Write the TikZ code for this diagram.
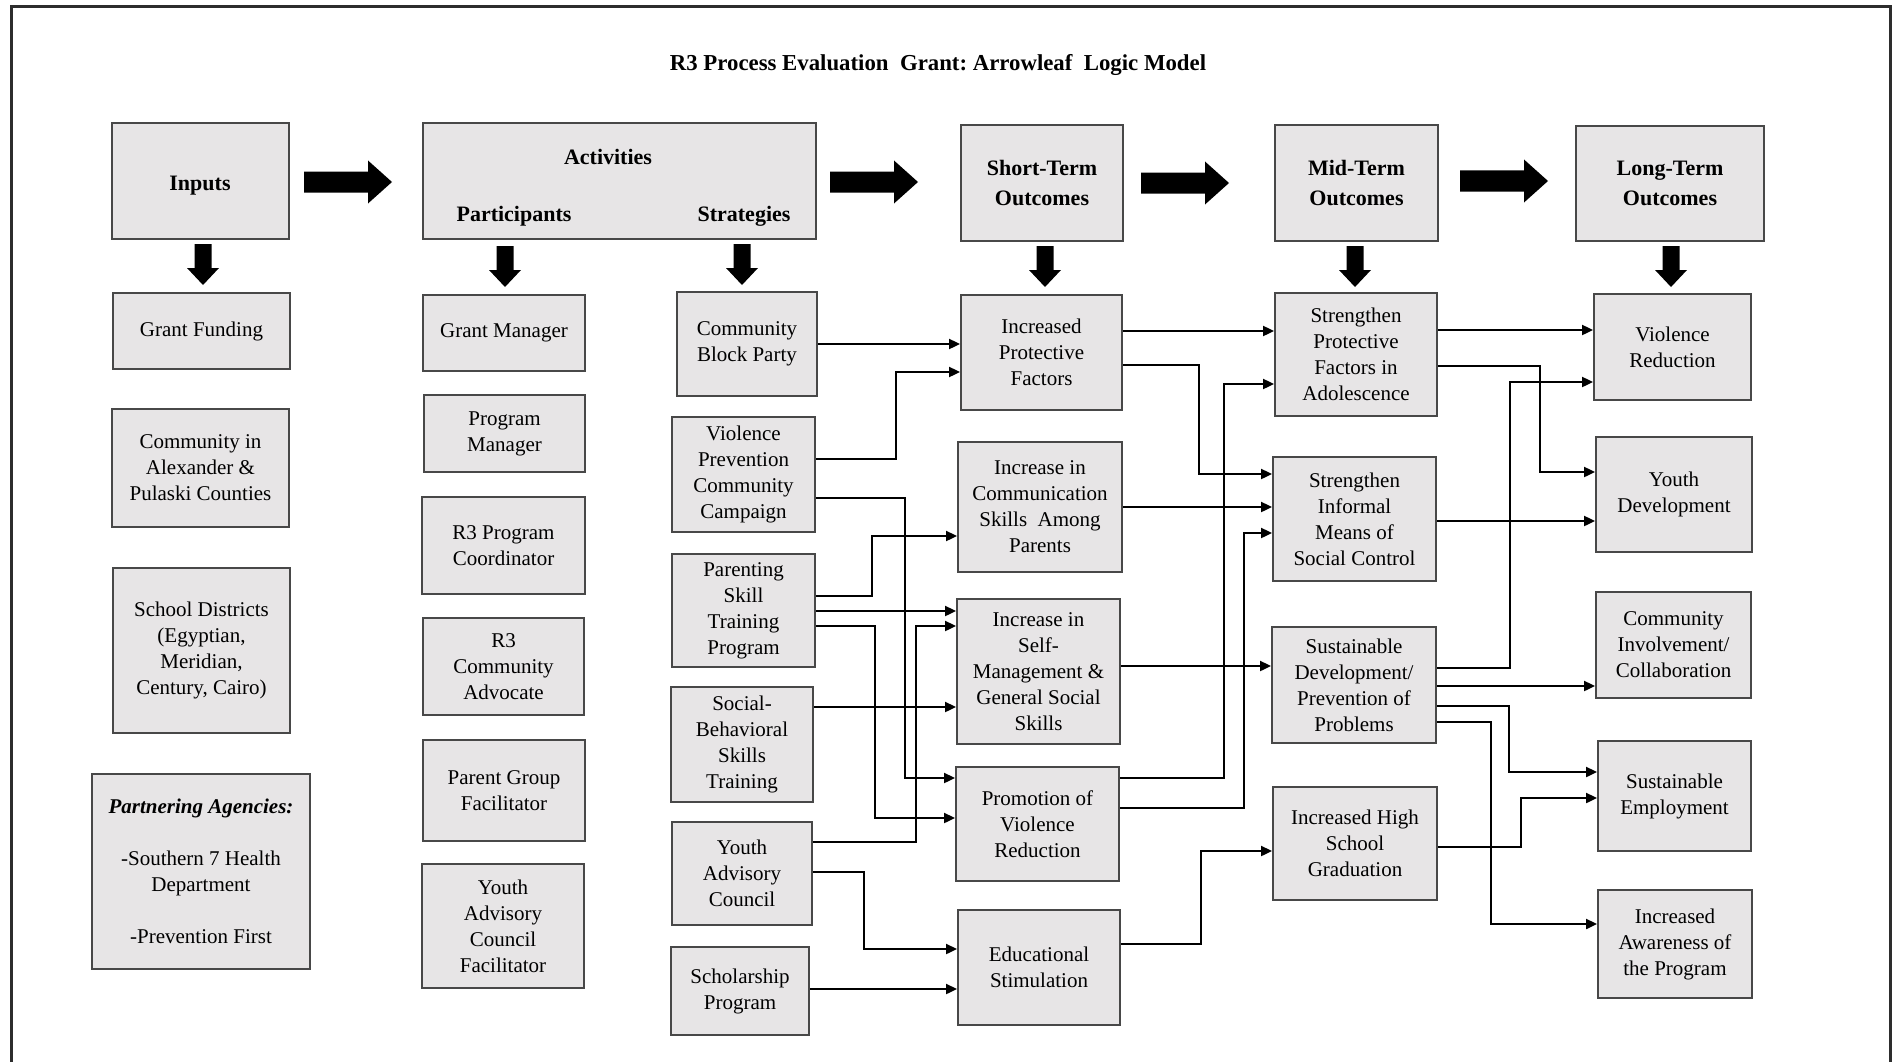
\documentclass[tikz,border=0pt]{standalone}
\usepackage{fontspec}
\setmainfont{Liberation Serif}
\usetikzlibrary{arrows.meta}

\definecolor{boxfill}{RGB}{231,229,230}
\definecolor{boxline}{RGB}{72,72,72}
\definecolor{framecol}{RGB}{45,45,45}

\newcommand\boxfont{\fontsize{21}{26}\selectfont}
\newcommand\headfont{\fontsize{22}{30}\selectfont\bfseries}

\tikzset{
  cell/.style={draw=boxline, fill=boxfill, line width=2pt, align=center,
    inner sep=0pt, font=\boxfont},
  headcell/.style={cell, font=\headfont},
  link/.style={line width=2.3pt, -{Triangle[length=11pt,width=10pt]}},
  pics/bigright/.style={code={
    \fill (0,-10.5) -- (64,-10.5) -- (64,-21.5) -- (88,0) -- (64,21.5)
          -- (64,10.5) -- (0,10.5) -- cycle;}},
  pics/bigdown/.style={code={
    \fill (-8.5,0) -- (8.5,0) -- (8.5,24) -- (16,24) -- (0,41) -- (-16,24)
          -- (-8.5,24) -- cycle;}},
}

% box from corner (x1,y1) to corner (x2,y2), y measured downwards
\newcommand\mkcell[7][cell]{%
  \node[#1, minimum width={(#4)-(#2)}, minimum height={(#5)-(#3)}]
    (#6) at ({((#2)+(#4))/2},{((#3)+(#5))/2}) {#7};}

\begin{document}
\begin{tikzpicture}[x=1pt, y=-1pt]
\useasboundingbox (0,0) rectangle (1893,1062);
\fill[white] (0,0) rectangle (1893,1062);

% outer frame
\draw[framecol, line width=3pt] (11,1062) -- (11,7) -- (1890,7) -- (1890,1062);

% title
\node (title) at (938,65)
  {\fontsize{22.8}{27}\selectfont\bfseries R3 Process Evaluation\ \ Grant:\ Arrowleaf\ \ Logic Model};

% column headers
\mkcell[headcell]{112}{123}{289}{239}{inputs}{}
\node[font=\headfont] (inputslabel) at (200,186) {Inputs};
\mkcell[headcell]{423}{123}{816}{239}{act}{}
\node[font=\headfont] (acttitle) at (608,157) {Activities};
\node[font=\headfont] (actpart) at (514,216) {Participants};
\node[font=\headfont] (actstrat) at (744,216) {Strategies};
\mkcell[headcell]{961}{125}{1123}{241}{short}{Short-Term\\Outcomes}
\mkcell[headcell]{1275}{125}{1438}{241}{mid}{Mid-Term\\Outcomes}
\mkcell[headcell]{1576}{126}{1764}{241}{long}{Long-Term\\Outcomes}

% block arrows between headers
\pic at (304,182) {bigright};
\pic at (830,182) {bigright};
\pic at (1141,183) {bigright};
\pic at (1460,181) {bigright};

% block arrows down from headers
\pic at (203,244) {bigdown};
\pic at (505,246) {bigdown};
\pic at (742,244) {bigdown};
\pic at (1045,246) {bigdown};
\pic at (1355,246) {bigdown};
\pic at (1671,246) {bigdown};

% inputs
\mkcell{113}{293}{290}{369}{gf}{Grant Funding}
\mkcell{112}{409}{289}{527}{cty}{Community in\\Alexander \&\\Pulaski Counties}
\mkcell{113}{568}{290}{733}{sdist}{School Districts\\(Egyptian,\\Meridian,\\Century, Cairo)}
\mkcell{92}{774}{310}{969}{partner}{\textbf{\textit{Partnering Agencies:}}\\[26pt]-Southern 7 Health\\Department\\[26pt]-Prevention First}

% participants
\mkcell{423}{295}{585}{371}{gm}{Grant Manager}
\mkcell{424}{395}{585}{472}{pm}{Program\\Manager}
\mkcell{422}{497}{585}{594}{coord}{R3 Program\\Coordinator}
\mkcell{423}{618}{584}{715}{adv}{R3\\Community\\Advocate}
\mkcell{423}{740}{585}{841}{pgf}{Parent Group\\Facilitator}
\mkcell{422}{864}{584}{988}{yacf}{Youth\\Advisory\\Council\\Facilitator}

% strategies
\mkcell{677}{292}{817}{396}{cbp}{Community\\Block Party}
\mkcell{672}{417}{815}{532}{vpc}{Violence\\Prevention\\Community\\Campaign}
\mkcell{672}{554}{815}{667}{psp}{Parenting\\Skill\\Training\\Program}
\mkcell{671}{687}{813}{802}{sbs}{Social-\\Behavioral\\Skills\\Training}
\mkcell{672}{822}{812}{925}{yac}{Youth\\Advisory\\Council}
\mkcell{671}{947}{809}{1035}{sch}{Scholarship\\Program}

% short-term outcomes
\mkcell{961}{295}{1122}{410}{ipf}{Increased\\Protective\\Factors}
\mkcell{958}{442}{1122}{572}{ics}{Increase in\\Communication\\Skills\ \ Among\\Parents}
\mkcell{957}{599}{1120}{744}{ism}{Increase in\\Self-\\Management \&\\General Social\\Skills}
\mkcell{956}{767}{1119}{881}{pvr}{Promotion of\\Violence\\Reduction}
\mkcell{958}{910}{1120}{1025}{est}{Educational\\Stimulation}

% mid-term outcomes
\mkcell{1275}{293}{1437}{416}{spf}{Strengthen\\Protective\\Factors in\\Adolescence}
\mkcell{1273}{457}{1436}{581}{sim}{Strengthen\\Informal\\Means of\\Social Control}
\mkcell{1272}{627}{1436}{743}{sdp}{Sustainable\\Development/\\Prevention of\\Problems}
\mkcell{1273}{787}{1437}{900}{hsg}{Increased High\\School\\Graduation}

% long-term outcomes
\mkcell{1594}{294}{1751}{400}{vr}{Violence\\Reduction}
\mkcell{1596}{437}{1752}{552}{yd}{Youth\\Development}
\mkcell{1596}{592}{1751}{698}{ci}{Community\\Involvement/\\Collaboration}
\mkcell{1598}{741}{1751}{851}{se}{Sustainable\\Employment}
\mkcell{1598}{890}{1752}{998}{ia}{Increased\\Awareness of\\the Program}

% strategies -> short-term outcomes
\draw[link] (cbp.east |- 0,344) -- (ipf.west |- 0,344);
\draw[link] (vpc.east |- 0,459) -| (896,372) -- (ipf.west |- 0,372);
\draw[link] (vpc.east |- 0,498) -| (905,778) -- (pvr.west |- 0,778);
\draw[link] (psp.east |- 0,596) -| (872,536) -- (ics.west |- 0,536);
\draw[link] (psp.east |- 0,611) -- (ism.west |- 0,611);
\draw[link] (psp.east |- 0,626) -| (875,818) -- (pvr.west |- 0,818);
\draw[link] (yac.east |- 0,842) -| (916,626) -- (ism.west |- 0,626);
\draw[link] (sbs.east |- 0,707) -- (ism.west |- 0,707);
\draw[link] (yac.east |- 0,872) -| (864,949) -- (est.west |- 0,949);
\draw[link] (sch.east |- 0,989) -- (est.west |- 0,989);

% short-term -> mid-term outcomes
\draw[link] (ipf.east |- 0,331) -- (spf.west |- 0,331);
\draw[link] (ipf.east |- 0,365) -| (1199,474) -- (sim.west |- 0,474);
\draw[link] (ics.east |- 0,507) -- (sim.west |- 0,507);
\draw[link] (pvr.east |- 0,778) -| (1224,384) -- (spf.west |- 0,384);
\draw[link] (pvr.east |- 0,808) -| (1244,533) -- (sim.west |- 0,533);
\draw[link] (ism.east |- 0,666) -- (sdp.west |- 0,666);
\draw[link] (est.east |- 0,944) -| (1201,851) -- (hsg.west |- 0,851);

% mid-term -> long-term outcomes
\draw[link] (spf.east |- 0,330) -- (vr.west |- 0,330);
\draw[link] (spf.east |- 0,366) -| (1540,472) -- (yd.west |- 0,472);
\draw[link] (sdp.east |- 0,668) -| (1510,382) -- (vr.west |- 0,382);
\draw[link] (sim.east |- 0,521) -- (yd.west |- 0,521);
\draw[link] (sdp.east |- 0,686) -- (ci.west |- 0,686);
\draw[link] (sdp.east |- 0,706) -| (1509,772) -- (se.west |- 0,772);
\draw[link] (sdp.east |- 0,722) -| (1491,924) -- (ia.west |- 0,924);
\draw[link] (hsg.east |- 0,847) -| (1521,798) -- (se.west |- 0,798);
\end{tikzpicture}
\end{document}
